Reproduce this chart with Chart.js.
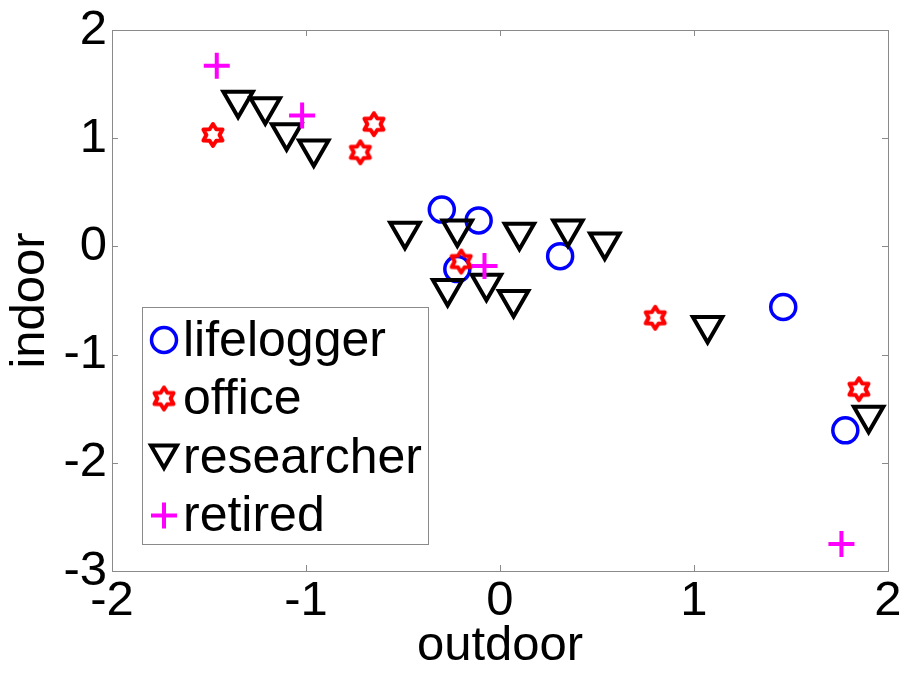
<!DOCTYPE html>
<html lang="en">
<head>
    <meta charset="UTF-8">
    <title>indoor vs outdoor</title>
    <style>
        body { margin: 0; background: #fff; }
        #wrap { width: 905px; height: 673px; }
    </style>
</head>
<body>
    <div id="wrap">
        <canvas id="scatterChart" width="905" height="673"></canvas>
    </div>
    <script src="https://cdn.jsdelivr.net/npm/chart.js"></script>
    <script>
        // veriler (outdoor, indoor)
        const lifeloggerX = [-0.30, -0.11, 0.31, -0.22, 1.46, 1.78];
        const lifeloggerY = [0.34, 0.24, -0.09, -0.21, -0.56, -1.70];

        const officeX = [-1.48, -0.65, -0.72, -0.20, 0.80, 1.85];
        const officeY = [1.03, 1.13, 0.87, -0.14, -0.66, -1.32];

        const researcherX = [-1.35, -1.21, -1.10, -0.96, -0.49, -0.22, 0.10, 0.35, 0.54, -0.27, -0.07, 0.07, 1.07, 1.90];
        const researcherY = [1.35, 1.29, 1.05, 0.90, 0.14, 0.16, 0.13, 0.16, 0.04, -0.39, -0.34, -0.49, -0.73, -1.56];

        const retiredX = [-1.46, -1.02, -0.08, 1.76];
        const retiredY = [1.67, 1.21, -0.18, -2.75];

        const xTicks = [-2, -1, 0, 1, 2];
        const yTicks = [-3, -2, -1, 0, 1, 2];

        const FONT = "'Liberation Sans', Arial, sans-serif";

        function toPoints(xs, ys) {
            return xs.map((x, i) => ({ x: x, y: ys[i] }));
        }

        // altı köşeli yıldız (hexagram) işaretçisi
        function hexagram(color) {
            const c = document.createElement('canvas');
            c.width = 30; c.height = 30;
            const g = c.getContext('2d');
            const R = 11, r = 6.6;
            g.beginPath();
            for (let i = 0; i < 12; i++) {
                const a = -Math.PI / 2 + i * Math.PI / 6;
                const rad = i % 2 === 0 ? R : r;
                const px = 15 + Math.cos(a) * rad, py = 15 + Math.sin(a) * rad;
                if (i === 0) g.moveTo(px, py); else g.lineTo(px, py);
            }
            g.closePath();
            g.strokeStyle = color;
            g.lineWidth = 4;
            g.lineJoin = 'round';
            g.stroke();
            return c;
        }
        const starImg = hexagram('#ff0000');

        const datasets = [
            {
                label: 'lifelogger',
                data: toPoints(lifeloggerX, lifeloggerY),
                pointStyle: 'circle',
                pointRadius: 12.5,
                borderColor: '#0000ff',
                backgroundColor: 'rgba(0,0,0,0)',
                pointBorderWidth: 3.5,
                order: 4
            },
            {
                label: 'office',
                data: toPoints(officeX, officeY),
                pointStyle: starImg,
                pointRadius: 12,
                borderColor: '#ff0000',
                backgroundColor: 'rgba(0,0,0,0)',
                pointBorderWidth: 4,
                order: 3
            },
            {
                label: 'researcher',
                data: toPoints(researcherX, researcherY),
                pointStyle: 'triangle',
                rotation: 180,
                pointRadius: 17,
                borderColor: '#000000',
                backgroundColor: 'rgba(0,0,0,0)',
                pointBorderWidth: 4,
                order: 2
            },
            {
                label: 'retired',
                data: toPoints(retiredX, retiredY),
                pointStyle: 'cross',
                pointRadius: 13,
                borderColor: '#ff00ff',
                backgroundColor: 'rgba(0,0,0,0)',
                pointBorderWidth: 4,
                order: 1
            }
        ];

        // eksen kutusu ve içe dönük çentikler
        const boxPlugin = {
            id: 'boxPlugin',
            afterDatasetsDraw(chart) {
                const { ctx, chartArea: a, scales } = chart;
                ctx.save();
                ctx.strokeStyle = '#8a8a8a';
                ctx.lineWidth = 1;
                ctx.strokeRect(a.left + 0.5, a.top + 0.5, a.right - a.left, a.bottom - a.top);
                ctx.beginPath();
                xTicks.forEach(v => {
                    const px = Math.round(scales.x.getPixelForValue(v)) + 0.5;
                    ctx.moveTo(px, a.bottom); ctx.lineTo(px, a.bottom - 6);
                    ctx.moveTo(px, a.top); ctx.lineTo(px, a.top + 6);
                });
                yTicks.forEach(v => {
                    const py = Math.round(scales.y.getPixelForValue(v)) + 0.5;
                    ctx.moveTo(a.left, py); ctx.lineTo(a.left + 6, py);
                    ctx.moveTo(a.right, py); ctx.lineTo(a.right - 6, py);
                });
                ctx.stroke();
                ctx.restore();
            }
        };

        // grafiğin içindeki lejant
        const legendPlugin = {
            id: 'innerLegend',
            afterDraw(chart) {
                const ctx = chart.ctx;
                const x0 = 142, y0 = 307, w = 286, h = 237;
                ctx.save();
                ctx.fillStyle = '#ffffff';
                ctx.fillRect(x0, y0, w, h);
                ctx.strokeStyle = '#8a8a8a';
                ctx.lineWidth = 1;
                ctx.strokeRect(x0 + 0.5, y0 + 0.5, w, h);
                ctx.font = '50px ' + FONT;
                ctx.textBaseline = 'middle';
                chart.data.datasets.forEach((ds, i) => {
                    const cy = y0 + 33 + i * 58.5;
                    ctx.strokeStyle = ds.borderColor;
                    ctx.fillStyle = 'rgba(0,0,0,0)';
                    ctx.lineWidth = ds.pointBorderWidth;
                    Chart.helpers.drawPoint(ctx, {
                        pointStyle: ds.pointStyle,
                        rotation: ds.rotation || 0,
                        radius: ds.pointStyle === 'triangle' ? 15 : ds.pointRadius,
                        borderWidth: ds.pointBorderWidth
                    }, 164, ds.pointStyle === 'triangle' ? cy - 4 : cy);
                    ctx.fillStyle = '#000000';
                    ctx.fillText(ds.label, 183, cy + 2);
                });
                ctx.restore();
            }
        };

        const ctxChart = document.getElementById('scatterChart').getContext('2d');
        const scatterChart = new Chart(ctxChart, {
            type: 'scatter',
            data: { datasets: datasets },
            options: {
                responsive: false,
                animation: false,
                devicePixelRatio: 1,
                layout: { autoPadding: false, padding: { top: 30, right: 17, left: 0, bottom: 0 } },
                plugins: {
                    legend: { display: false },
                    tooltip: { enabled: false }
                },
                scales: {
                    x: {
                        type: 'linear',
                        min: -2, max: 2,
                        afterBuildTicks: s => { s.ticks = xTicks.map(v => ({ value: v })); },
                        afterFit: s => { s.height = 102; s.paddingLeft = 0; s.paddingRight = 0; },
                        grid: { display: false, drawTicks: false },
                        border: { display: false },
                        ticks: { color: '#000', padding: 6, font: { family: FONT, size: 49, lineHeight: 1 }, maxRotation: 0 },
                        title: {
                            display: true, text: 'outdoor', color: '#000',
                            font: { family: FONT, size: 49, lineHeight: 1 }, padding: { top: 0, bottom: 2 }
                        }
                    },
                    y: {
                        type: 'linear',
                        min: -3, max: 2,
                        afterBuildTicks: s => { s.ticks = yTicks.map(v => ({ value: v })); },
                        afterFit: s => { s.width = 112; },
                        grid: { display: false, drawTicks: false },
                        border: { display: false },
                        ticks: { color: '#000', padding: 5, font: { family: FONT, size: 49, lineHeight: 1 } },
                        title: {
                            display: true, text: 'indoor', color: '#000',
                            font: { family: FONT, size: 49, lineHeight: 1 }, padding: { top: 6, bottom: 0 }
                        }
                    }
                }
            },
            plugins: [boxPlugin, legendPlugin]
        });
    </script>
</body>
</html>
